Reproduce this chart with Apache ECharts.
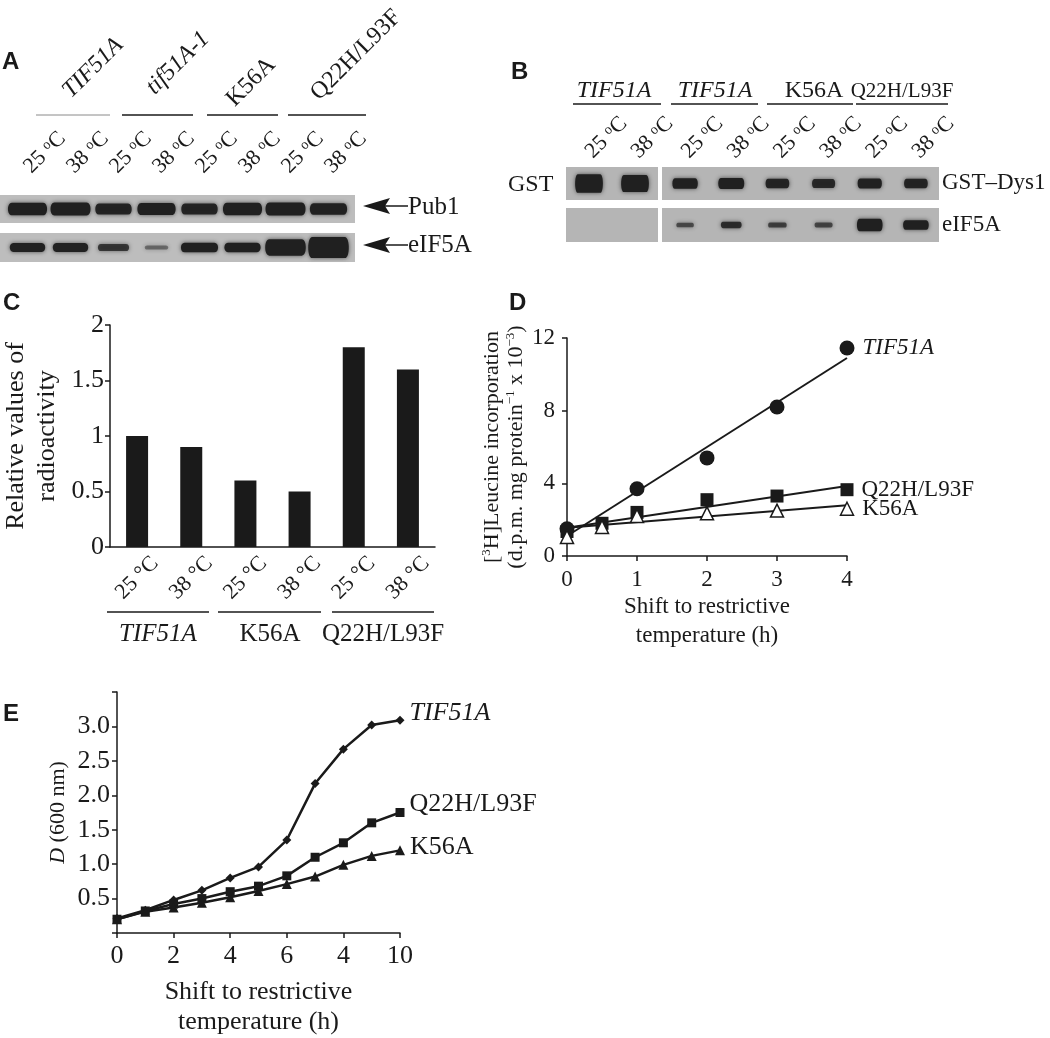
<!DOCTYPE html>
<html>
<head>
<meta charset="utf-8">
<title>eIF5A mutants</title>
<script src="https://cdn.jsdelivr.net/npm/echarts@6/dist/echarts.min.js"></script>
<style>
  html, body { margin: 0; padding: 0; background: #fff; }
  #chart { width: 1050px; height: 1038px; }
</style>
</head>
<body>
<div id="chart"></div>
<script>
// lanes of the blots (temperature of each lane)
var tempLabels = ['25', '38', '25', '38', '25', '38', '25', '38']
var strainsA = ['TIF51A', 'tif51A-1', 'K56A', 'Q22H/L93F']
var strainsB = ['TIF51A', 'TIF51A', 'K56A', 'Q22H/L93F']
// band amounts read off the blots (arbitrary units, 0 = no band)
var pub1A = [0.95, 1.0, 0.8, 0.9, 0.8, 0.95, 1.0, 0.85]
var eif5aA = [0.85, 0.85, 0.6, 0.15, 0.95, 0.9, 1.9, 2.6]
var gstB = [2.0, 1.8, 0.95, 1.0, 0.8, 0.75, 0.85, 0.8]
var eif5aB = [0, 0, 0.4, 0.7, 0.5, 0.45, 1.8, 1.3]

// C - relative radioactivity
var barCats = ['25', '38', '25', '38', '25', '38']
var radioactivity = [1.0, 0.9, 0.6, 0.5, 1.8, 1.6]
var groupsC = ['TIF51A', 'K56A', 'Q22H/L93F']

// D - leucine incorporation, [hours, value]
var tif51aD = [[0, 1.5], [1, 3.7], [2, 5.4], [3, 8.2], [4, 11.45]]
var q22hD = [[0, 1.35], [0.5, 1.8], [1, 2.4], [2, 3.1], [3, 3.3], [4, 3.65]]
var k56aD = [[0, 1.05], [0.5, 1.6], [1, 2.2], [2, 2.35], [3, 2.5], [4, 2.6]]
// fitted lines as drawn on the figure
var tif51aFit = [[0, 1.1], [4, 10.9]]
var q22hFit = [[0, 1.55], [4, 3.85]]
var k56aFit = [[0, 1.55], [4, 2.8]]

// E - growth curves
var hoursE = [0, 1, 2, 3, 4, 5, 6, 7, 8, 9, 10]
var tif51aE = [0.21, 0.33, 0.48, 0.62, 0.8, 0.96, 1.35, 2.17, 2.67, 3.02, 3.09]
var q22hE = [0.2, 0.32, 0.42, 0.5, 0.6, 0.68, 0.83, 1.1, 1.31, 1.6, 1.75]
var k56aE = [0.2, 0.31, 0.37, 0.44, 0.52, 0.61, 0.71, 0.82, 0.99, 1.12, 1.2]
var eTickLabels = ['0', '2', '4', '6', '4', '10']

var serif = 'Liberation Serif'
var ink = '#1a1a1a'
var chart = echarts.init(document.getElementById('chart'))

var grids = [
  {left: 0, top: 195, width: 355, height: 28, show: true, backgroundColor: '#bdbdbd', borderWidth: 0},
  {left: 6, top: 195, width: 344, height: 28},
  {left: 0, top: 233, width: 355, height: 29, show: true, backgroundColor: '#bdbdbd', borderWidth: 0},
  {left: 6, top: 233, width: 344, height: 29},
  {left: 566, top: 167, width: 92, height: 33, show: true, backgroundColor: '#b5b5b5', borderWidth: 0},
  {left: 662, top: 167, width: 277, height: 33, show: true, backgroundColor: '#b5b5b5', borderWidth: 0},
  {left: 566, top: 208, width: 92, height: 34, show: true, backgroundColor: '#b5b5b5', borderWidth: 0},
  {left: 662, top: 208, width: 277, height: 34, show: true, backgroundColor: '#b5b5b5', borderWidth: 0},
  {left: 105, top: 325, width: 330, height: 222},
  {left: 567, top: 338, width: 280, height: 218},
  {left: 117, top: 692, width: 283, height: 243}
]

var tempRich = {o: {fontFamily: serif, fontSize: 14, verticalAlign: 'top', color: ink}}

function hiddenAxes (g) {
  return [{gridIndex: g, type: 'value', show: false}, {gridIndex: g, type: 'value', show: false}]
}

function laneAxes (g, labels, margin, withText) {
  return [{
    gridIndex: g,
    type: 'category',
    position: 'top',
    data: labels,
    axisLine: {show: false},
    axisTick: {show: false},
    axisLabel: {
      show: withText,
      rotate: -45,
      margin: margin,
      fontFamily: serif,
      fontSize: 22,
      color: ink,
      formatter: function (v) { return v + ' {o|o}C' },
      rich: tempRich
    }
  }, {gridIndex: g, type: 'category', data: ['band'], show: false}]
}

function bandSeries (g, amounts, base) {
  var data = []
  amounts.forEach(function (v, i) {
    if (v > 0) data.push([i, 0, v])
  })
  return {
    type: 'scatter',
    xAxisIndex: g,
    yAxisIndex: g,
    symbol: 'path://M10,0 L90,0 C103,0 103,40 90,40 L10,40 C-3,40 -3,0 10,0 Z',
    symbolKeepAspect: false,
    symbolSize: function (val) {
      var v = val[2]
      return [base[0] * (0.55 + 0.45 * Math.min(v, 1.15)), base[1] * (0.3 + 0.7 * v)]
    },
    itemStyle: {
      opacity: 1,
      color: function (p) {
        return 'rgba(32,32,32,' + Math.min(1, 0.35 + 0.75 * p.value[2]) + ')'
      },
      shadowBlur: 4,
      shadowColor: 'rgba(30,30,30,0.7)'
    },
    silent: true,
    data: data
  }
}

var xAxes = []
var yAxes = []
function addAxes (pair) { xAxes.push(pair[0]); yAxes.push(pair[1]) }
addAxes(hiddenAxes(0))
addAxes(laneAxes(1, tempLabels, 25, true))
addAxes(hiddenAxes(2))
addAxes(laneAxes(3, tempLabels, 25, false))
addAxes(laneAxes(4, tempLabels.slice(0, 2), 12, true))
addAxes(laneAxes(5, tempLabels.slice(2), 12, true))
addAxes(laneAxes(6, tempLabels.slice(0, 2), 12, false))
addAxes(laneAxes(7, tempLabels.slice(2), 12, false))

var axisLineStyle = {lineStyle: {color: ink, width: 1.5}}
var tickStyle = {length: 5, lineStyle: {color: ink, width: 1.5}}

// C
xAxes.push({
  gridIndex: 8,
  type: 'category',
  data: barCats,
  axisLine: axisLineStyle,
  axisTick: tickStyle,
  axisLabel: {
    rotate: 45, margin: 31, align: 'center', verticalAlign: 'middle',
    fontFamily: serif, fontSize: 22, color: ink,
    formatter: function (v) { return v + ' °C' }
  }
})
yAxes.push({
  gridIndex: 8,
  type: 'value',
  min: 0, max: 2, interval: 0.5,
  splitLine: {show: false},
  axisLine: {show: true, lineStyle: {color: ink, width: 1.5}},
  axisTick: {show: true, length: 5, lineStyle: {color: ink, width: 1.5}},
  axisLabel: {fontFamily: serif, fontSize: 26, color: ink, margin: 6},
  name: 'Relative values of\nradioactivity',
  nameLocation: 'middle',
  nameRotate: 90,
  nameGap: 47,
  nameTextStyle: {fontFamily: serif, fontSize: 26, color: ink, lineHeight: 31}
})

// D
xAxes.push({
  gridIndex: 9,
  type: 'value',
  min: 0, max: 4, interval: 1,
  splitLine: {show: false},
  axisLine: axisLineStyle,
  axisTick: tickStyle,
  axisLabel: {fontFamily: serif, fontSize: 23, color: ink, margin: 12},
  name: 'Shift to restrictive\ntemperature (h)',
  nameLocation: 'middle',
  nameGap: 36,
  nameTextStyle: {fontFamily: serif, fontSize: 23, color: ink, lineHeight: 29}
})
yAxes.push({
  gridIndex: 9,
  type: 'value',
  min: 0, max: 12, interval: 4,
  splitLine: {show: false},
  axisLine: {show: true, lineStyle: {color: ink, width: 1.5}},
  axisTick: {show: true, length: 5, lineStyle: {color: ink, width: 1.5}},
  axisLabel: {fontFamily: serif, fontSize: 23, color: ink, margin: 12},
  name: '[{s|3}H]Leucine incorporation\n(d.p.m. mg protein{s|−1} x 10{s|−3})',
  nameLocation: 'middle',
  nameRotate: 90,
  nameGap: 36,
  nameTextStyle: {
    fontFamily: serif, fontSize: 22, color: ink, lineHeight: 24,
    rich: {s: {fontFamily: serif, fontSize: 13, color: ink, verticalAlign: 'top'}}
  }
})

// E
xAxes.push({
  gridIndex: 10,
  type: 'value',
  min: 0, max: 10, interval: 2,
  splitLine: {show: false},
  axisLine: axisLineStyle,
  axisTick: tickStyle,
  axisLabel: {
    fontFamily: serif, fontSize: 26, color: ink, margin: 10,
    formatter: function (v) { return eTickLabels[v / 2] }
  },
  name: 'Shift to restrictive\ntemperature (h)',
  nameLocation: 'middle',
  nameGap: 44,
  nameTextStyle: {fontFamily: serif, fontSize: 26, color: ink, lineHeight: 30}
})
yAxes.push({
  gridIndex: 10,
  type: 'value',
  min: 0, max: 3.5, interval: 0.5,
  splitLine: {show: false},
  axisLine: {show: true, lineStyle: {color: ink, width: 1.5}},
  axisTick: {show: true, length: 5, lineStyle: {color: ink, width: 1.5}},
  axisLabel: {
    fontFamily: serif, fontSize: 26, color: ink, margin: 7,
    formatter: function (v) { return (v === 0 || v === 3.5) ? '' : v.toFixed(1) }
  },
  name: '{i|D} (600 nm)',
  nameLocation: 'middle',
  nameRotate: 90,
  nameGap: 48,
  nameTextStyle: {
    fontFamily: serif, fontSize: 22, color: ink,
    rich: {i: {fontFamily: serif, fontSize: 22, fontStyle: 'italic', color: ink}}
  }
})

function endLabel (pts, text, italic, offset) {
  return pts.map(function (p, i) {
    if (i < pts.length - 1) return p
    return {
      value: p,
      label: {
        show: true, position: 'right', distance: 8, offset: offset || [0, 0],
        formatter: text, fontFamily: serif, fontSize: 23, color: ink,
        fontStyle: italic ? 'italic' : 'normal'
      }
    }
  })
}

function fitLine (pts) {
  return {
    type: 'line', xAxisIndex: 9, yAxisIndex: 9, data: pts, symbol: 'none',
    lineStyle: {color: ink, width: 2}, z: 1
  }
}

function growth (vals, symbol, size, text, italic, offset) {
  var pts = hoursE.map(function (h, i) { return [h, vals[i]] })
  var data = endLabel(pts, text, italic, offset)
  data.forEach(function (d) { if (d.label) { d.label.fontSize = 26; d.label.distance = 5 } })
  return {
    type: 'line', xAxisIndex: 10, yAxisIndex: 10, data: data,
    symbol: symbol, symbolSize: size, showAllSymbol: true,
    itemStyle: {color: ink}, lineStyle: {color: ink, width: 2.5}
  }
}

var series = [
  bandSeries(1, pub1A, [40, 13]),
  bandSeries(3, eif5aA, [38, 10]),
  bandSeries(4, gstB.slice(0, 2), [26, 11]),
  bandSeries(5, gstB.slice(2), [26, 11]),
  bandSeries(6, eif5aB.slice(0, 2), [24, 8]),
  bandSeries(7, eif5aB.slice(2), [24, 8]),
  {
    type: 'bar', xAxisIndex: 8, yAxisIndex: 8, data: radioactivity,
    barWidth: 22, itemStyle: {color: ink}
  },
  fitLine(tif51aFit),
  fitLine(q22hFit),
  fitLine(k56aFit),
  {
    type: 'scatter', xAxisIndex: 9, yAxisIndex: 9, symbol: 'circle', symbolSize: 15,
    itemStyle: {color: ink, opacity: 1}, data: endLabel(tif51aD, 'TIF51A', true)
  },
  {
    type: 'scatter', xAxisIndex: 9, yAxisIndex: 9, symbol: 'rect', symbolSize: 13,
    itemStyle: {color: ink, opacity: 1}, data: endLabel(q22hD, 'Q22H/L93F', false)
  },
  {
    type: 'scatter', xAxisIndex: 9, yAxisIndex: 9, symbol: 'triangle', symbolSize: 13,
    itemStyle: {color: '#fff', borderColor: ink, borderWidth: 1.5, opacity: 1},
    data: endLabel(k56aD, 'K56A', false)
  },
  growth(tif51aE, 'diamond', 9, 'TIF51A', true, [0, -7]),
  growth(q22hE, 'rect', 9, 'Q22H/L93F', false, [0, -8]),
  growth(k56aE, 'triangle', 10, 'K56A', false, [0, -3])
]

// annotations: panel letters, strain headers, arrows
function txt (x, y, text, size, opts) {
  opts = opts || {}
  return {
    type: 'text', x: x, y: y, rotation: opts.rotation || 0, silent: true,
    style: {
      text: text, fill: ink,
      fontFamily: opts.family || serif, fontSize: size,
      fontStyle: opts.italic ? 'italic' : 'normal',
      fontWeight: opts.bold ? 'bold' : 'normal',
      align: opts.align || 'left', verticalAlign: 'middle'
    }
  }
}
function hline (x1, x2, y, color, w) {
  return {type: 'line', silent: true, shape: {x1: x1, y1: y, x2: x2, y2: y},
    style: {stroke: color || ink, lineWidth: w || 1.5}}
}
function arrow (x, y) {
  return [
    {type: 'polygon', silent: true, shape: {points: [[x, y], [x + 27, y - 8], [x + 22, y], [x + 27, y + 8]]}, style: {fill: ink}},
    hline(x + 20, x + 45, y, ink, 1.5)
  ]
}

var letter = {family: 'Liberation Sans', bold: true}
var graphics = [
  txt(2, 62, 'A', 24, letter),
  txt(511, 72, 'B', 24, letter),
  txt(3, 303, 'C', 24, letter),
  txt(509, 303, 'D', 24, letter),
  txt(3, 714, 'E', 24, letter),
  // A headers
  txt(93, 68, strainsA[0], 24, {italic: true, align: 'center', rotation: Math.PI / 4}),
  txt(178, 63, strainsA[1], 24, {italic: true, align: 'center', rotation: Math.PI / 4}),
  txt(251, 82, strainsA[2], 24, {align: 'center', rotation: Math.PI / 4}),
  txt(356, 55, strainsA[3], 24, {align: 'center', rotation: Math.PI / 4}),
  hline(36, 110, 115, '#8a8a8a', 1),
  hline(122, 193, 115),
  hline(207, 278, 115),
  hline(288, 366, 115),
  txt(408, 207, 'Pub1', 25),
  txt(408, 245, 'eIF5A', 25),
  // B headers
  txt(614, 91, strainsB[0], 24, {italic: true, align: 'center'}),
  txt(715, 91, strainsB[1], 24, {italic: true, align: 'center'}),
  txt(814, 91, strainsB[2], 24, {align: 'center'}),
  txt(902, 91, strainsB[3], 21, {align: 'center'}),
  hline(573, 661, 104),
  hline(671, 758, 104),
  hline(767, 853, 104),
  hline(856, 948, 104),
  txt(508, 185, 'GST', 24),
  txt(942, 183, 'GST–Dys1', 23),
  txt(942, 225, 'eIF5A', 23),
  // C groups
  hline(107, 209, 612),
  hline(218, 321, 612),
  hline(332, 434, 612),
  txt(158, 634, groupsC[0], 25, {italic: true, align: 'center'}),
  txt(270, 634, groupsC[1], 25, {align: 'center'}),
  txt(383, 634, groupsC[2], 25, {align: 'center'})
].concat(arrow(363, 206), arrow(363, 245))

chart.setOption({
  animation: false,
  backgroundColor: '#fff',
  grid: grids,
  xAxis: xAxes,
  yAxis: yAxes,
  series: series,
  graphic: graphics
})
</script>
</body>
</html>
